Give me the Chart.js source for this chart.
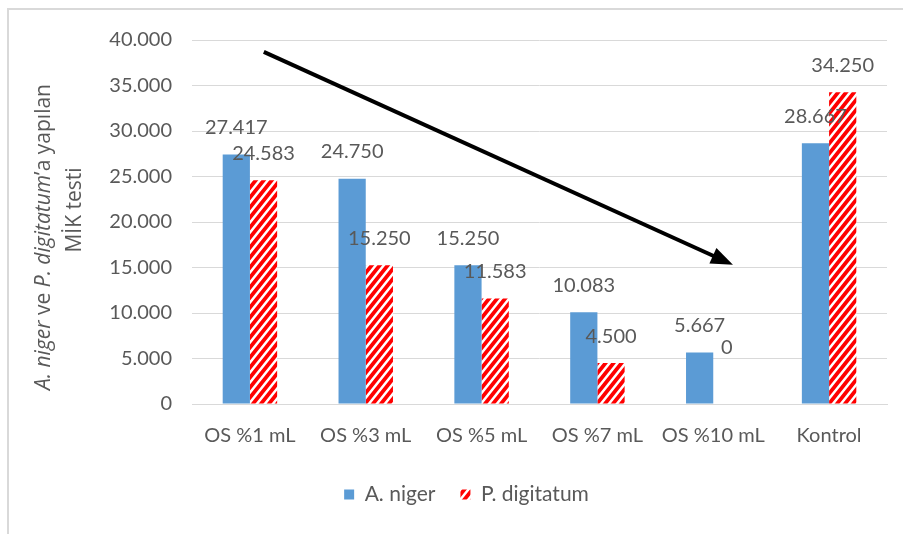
<!DOCTYPE html>
<html>
<head>
<meta charset="utf-8">
<script src="https://cdn.jsdelivr.net/npm/chart.js@4/dist/chart.umd.min.js"></script>
<style>
  html, body { margin: 0; padding: 0; background: #fff; }
  #wrap { position: relative; width: 903px; height: 534px; overflow: hidden; }
  #frame { position: absolute; left: 7px; top: 8px; width: 910px; height: 540px;
           border-left: 2px solid #d9d9d9; border-top: 2px solid #d9d9d9; }
  canvas { position: absolute; left: 0; top: 0; }
</style>
</head>
<body>
<div id="wrap">
  <div id="frame"></div>
  <canvas id="c" width="903" height="534"></canvas>
</div>
<script>
// Categories and series values (MİK test results)
const categories = ['OS %1 mL', 'OS %3 mL', 'OS %5 mL', 'OS %7 mL', 'OS %10 mL', 'Kontrol'];
const aNiger = [27417, 24750, 15250, 10083, 5667, 28667];
const pDigitatum = [24583, 15250, 11583, 4500, 0, 34250];
const seriesNames = ['A. niger', 'P. digitatum'];

// Value axis range and step
const yMin = 0;
const yMax = 40000;
const yStep = 5000;

// Trend arrow, in data units: [category index, value]
const arrowFrom = [0.12, 38700];
const arrowTo = [4.17, 15300];

const FONT = 'Lato, "Open Sans", sans-serif';
const TITLE_FONT = '"Open Sans", "Noto Sans", sans-serif';
const TEXT = '#595959';
const GRID = '#d9d9d9';
const BLUE = '#5b9bd5';
const RED = '#ff0000';

// Thousands separator with a dot
function fmt(v) {
  return String(Math.round(v)).replace(/\B(?=(\d{3})+(?!\d))/g, '.');
}

// Red diagonal hatch fill
function makeHatch() {
  const w = 8, h = 10;
  const t = document.createElement('canvas');
  t.width = w; t.height = h;
  const g = t.getContext('2d');
  g.fillStyle = '#fff';
  g.fillRect(0, 0, w, h);
  g.strokeStyle = RED;
  g.lineWidth = 3.8;
  g.lineCap = 'square';
  g.beginPath();
  for (let k = -1; k <= 1; k++) {
    g.moveTo(-w, 2 * h + k * h);
    g.lineTo(2 * w, -h + k * h);
  }
  g.stroke();
  return g.createPattern(t, 'repeat');
}
const hatch = makeHatch();

// Value labels above the bars
const valueLabels = {
  id: 'valueLabels',
  afterDatasetsDraw(chart) {
    const ctx = chart.ctx;
    const base = chart.scales.y.getPixelForValue(0);
    ctx.save();
    ctx.font = '20px ' + FONT;
    ctx.fillStyle = TEXT;
    ctx.textAlign = 'center';
    ctx.textBaseline = 'middle';
    chart.data.datasets.forEach((ds, di) => {
      const meta = chart.getDatasetMeta(di);
      meta.data.forEach((el, i) => {
        const y = Math.min(el.y, base - 29) - 27;
        ctx.fillText(fmt(ds.data[i]), el.x, y);
      });
    });
    ctx.restore();
  }
};

// Trend arrow drawn over the plot
const trendArrow = {
  id: 'trendArrow',
  afterDatasetsDraw(chart) {
    const xs = chart.scales.x, ys = chart.scales.y;
    const x1 = xs.getPixelForValue(arrowFrom[0]), y1 = ys.getPixelForValue(arrowFrom[1]);
    const x2 = xs.getPixelForValue(arrowTo[0]), y2 = ys.getPixelForValue(arrowTo[1]);
    const a = Math.atan2(y2 - y1, x2 - x1);
    const headLen = 22, headHalf = 8.5;
    const bx = x2 - headLen * Math.cos(a), by = y2 - headLen * Math.sin(a);
    const ctx = chart.ctx;
    ctx.save();
    ctx.strokeStyle = '#000';
    ctx.fillStyle = '#000';
    ctx.lineWidth = 4;
    ctx.beginPath();
    ctx.moveTo(x1, y1);
    ctx.lineTo(bx + 2 * Math.cos(a), by + 2 * Math.sin(a));
    ctx.stroke();
    ctx.beginPath();
    ctx.moveTo(x2, y2);
    ctx.lineTo(bx + headHalf * Math.sin(a), by - headHalf * Math.cos(a));
    ctx.lineTo(bx - headHalf * Math.sin(a), by + headHalf * Math.cos(a));
    ctx.closePath();
    ctx.fill();
    ctx.restore();
  }
};

// Two-line value-axis title with italic species names
const axisTitle = {
  id: 'axisTitle',
  afterDraw(chart) {
    const ctx = chart.ctx;
    const line1 = [
      ['A. niger', true], [' ve ', false], ['P. digitatum', true], ['’a yapılan', false]
    ];
    const size = 21;
    const fontOf = it => (it ? 'italic ' : '') + size + 'px ' + TITLE_FONT;
    ctx.save();
    ctx.fillStyle = TEXT;
    ctx.textBaseline = 'middle';
    ctx.textAlign = 'left';
    // first line
    let total = 0;
    line1.forEach(([s, it]) => { ctx.font = fontOf(it); total += ctx.measureText(s).width; });
    ctx.save();
    ctx.translate(44, 237);
    ctx.rotate(-Math.PI / 2);
    let x = -total / 2;
    line1.forEach(([s, it]) => {
      ctx.font = fontOf(it);
      ctx.fillText(s, x, 0);
      x += ctx.measureText(s).width;
    });
    ctx.restore();
    // second line
    ctx.save();
    ctx.translate(75, 210);
    ctx.rotate(-Math.PI / 2);
    ctx.font = fontOf(false);
    ctx.textAlign = 'center';
    ctx.fillText('MİK testi', 0, 0);
    ctx.restore();
    ctx.restore();
  }
};

new Chart(document.getElementById('c'), {
  type: 'bar',
  data: {
    labels: categories,
    datasets: [
      { label: seriesNames[0], data: aNiger, backgroundColor: BLUE, borderWidth: 0 },
      { label: seriesNames[1], data: pDigitatum, backgroundColor: hatch, borderWidth: 0 }
    ]
  },
  options: {
    responsive: false,
    animation: false,
    devicePixelRatio: 1,
    categoryPercentage: 0.47,
    barPercentage: 1,
    layout: { padding: { top: 40, right: 16, bottom: 19, left: 46 } },
    plugins: {
      tooltip: { enabled: false },
      legend: {
        position: 'bottom',
        labels: {
          color: TEXT,
          font: { family: FONT, size: 21 },
          boxWidth: 10,
          boxHeight: 10,
          padding: 25
        }
      }
    },
    scales: {
      x: {
        grid: { display: false, drawTicks: false },
        border: { display: true, color: GRID, width: 1 },
        ticks: { color: TEXT, font: { family: FONT, size: 20 }, padding: 20, maxRotation: 0, autoSkip: false },
        afterFit(s) { s.height = 55; }
      },
      y: {
        min: yMin,
        max: yMax,
        grid: { color: GRID, lineWidth: 1, drawTicks: false },
        border: { display: false },
        ticks: {
          stepSize: yStep,
          color: TEXT,
          font: { family: FONT, size: 20 },
          padding: 20,
          callback: v => fmt(v)
        },
        afterFit(s) { s.width = 146; }
      }
    }
  },
  plugins: [valueLabels, trendArrow, axisTitle]
});
</script>
</body>
</html>
